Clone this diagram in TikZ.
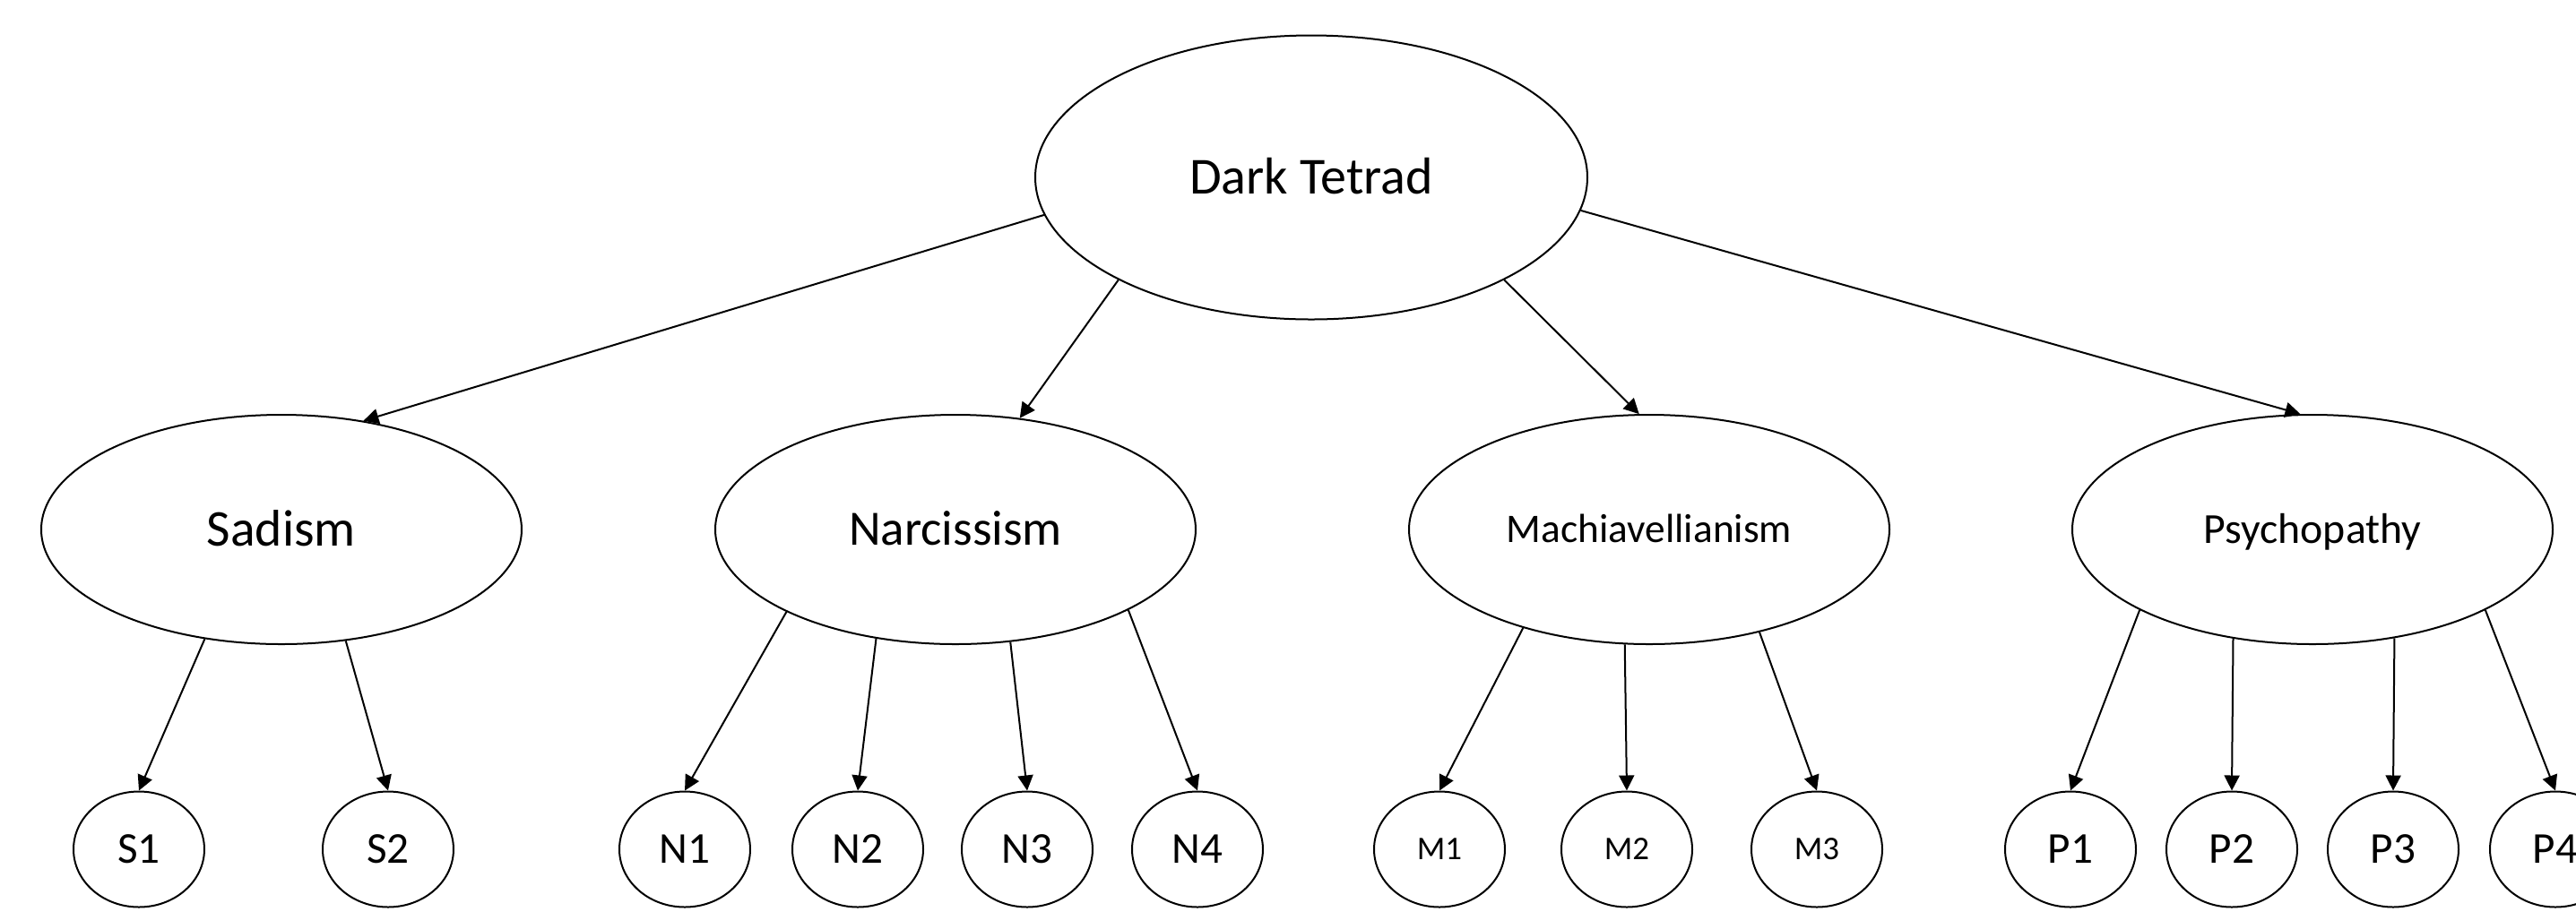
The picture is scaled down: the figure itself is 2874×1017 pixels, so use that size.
\documentclass[tikz,border=0pt]{standalone}
\usepackage{fontspec}
\setmainfont{Carlito}
\usetikzlibrary{shapes.geometric,arrows.meta}
\begin{document}
\begin{tikzpicture}[x=0.1mm,y=-0.1mm,
  top/.style={draw,ellipse,line width=0.2mm,inner sep=0pt,minimum width=61.6mm,minimum height=31.7mm,text height=0.64em,text depth=0pt},
  trait/.style={draw,ellipse,line width=0.2mm,inner sep=0pt,minimum width=53.6mm,minimum height=25.6mm,text height=0.64em,text depth=0pt},
  leaf/.style={draw,ellipse,line width=0.2mm,inner sep=0pt,minimum width=14.6mm,minimum height=12.9mm,text height=0.64em,text depth=0pt,node font=\fontsize{14}{16}\selectfont},
  link/.style={draw,line width=0.2mm,-{Triangle[length=1.7mm,width=1.7mm]}}]
\useasboundingbox (0,0) rectangle (2874,1017);
\node[top,node font=\fontsize{16.5}{18}\selectfont] (dt) at (1463,198) {Dark Tetrad};
\node[trait,node font=\fontsize{16.4}{18}\selectfont] (sad) at (314,591) {Sadism};
\node[trait,node font=\fontsize{15.7}{18}\selectfont] (nar) at (1066,591) {Narcissism};
\node[trait,node font=\fontsize{12.9}{15}\selectfont] (mac) at (1840,591) {Machiavellianism};
\node[trait,node font=\fontsize{13.6}{15}\selectfont] (psy) at (2580,591) {Psychopathy};
\node[leaf] (s1) at (155,948) {S1};
\node[leaf] (s2) at (433,948) {S2};
\node[leaf] (n1) at (764,948) {N1};
\node[leaf] (n2) at (957,948) {N2};
\node[leaf] (n3) at (1146,948) {N3};
\node[leaf] (n4) at (1336,948) {N4};
\node[leaf,node font=\fontsize{10.5}{12}\selectfont] (m1) at (1606,948) {M1};
\node[leaf,node font=\fontsize{10.5}{12}\selectfont] (m2) at (1815,948) {M2};
\node[leaf,node font=\fontsize{10.5}{12}\selectfont] (m3) at (2027,948) {M3};
\node[leaf] (p1) at (2310,948) {P1};
\node[leaf] (p2) at (2490,948) {P2};
\node[leaf] (p3) at (2670,948) {P3};
\node[leaf] (p4) at (2851,948) {P4};
\path[link] (dt.188) -- (sad.53);
\path[link] (dt.208) -- (nar.60);
\path[link] (dt.332) -- (mac.95);
\path[link] (dt.353) -- (psy.96);
\path[link] (sad.235) -- (s1.north);
\path[link] (sad.300) -- (s2.north);
\path[link] (nar.206) -- (n1.north);
\path[link] (nar.234) -- (n2.north);
\path[link] (nar.296) -- (n3.north);
\path[link] (nar.335) -- (n4.north);
\path[link] (mac.218) -- (m1.north);
\path[link] (mac.258) -- (m2.north);
\path[link] (mac.317) -- (m3.north);
\path[link] (psy.205) -- (p1.north);
\path[link] (psy.234) -- (p2.north);
\path[link] (psy.307) -- (p3.north);
\path[link] (psy.335) -- (p4.north);
\end{tikzpicture}
\end{document}
